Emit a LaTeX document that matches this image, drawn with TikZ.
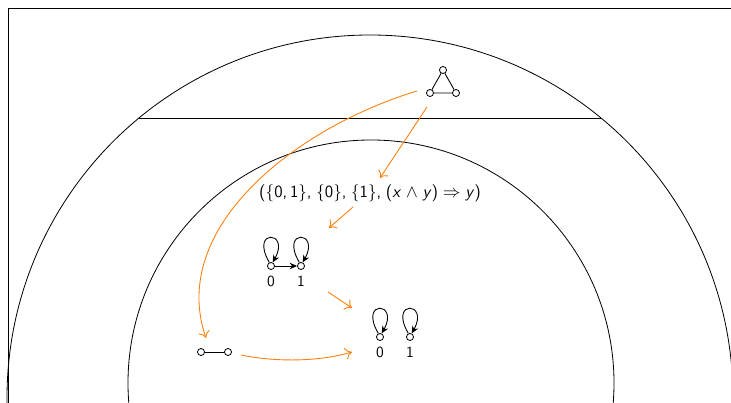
\documentclass[tikz,border=0pt]{standalone}
\usetikzlibrary{arrows.meta}
\definecolor{orng}{RGB}{255,127,14}
\begin{document}
\begin{tikzpicture}[x=0.68pt,y=0.68pt,
  vtx/.style={circle,draw,fill=white,inner sep=0pt,minimum size=4.8pt,line width=0.55pt},
  lbl/.style={font=\fontsize{10.5}{12}\selectfont\sffamily,inner sep=0pt},
  biglbl/.style={font=\fontsize{11.6}{14}\selectfont\sffamily,inner sep=0pt},
  edgeline/.style={line width=0.6pt},
  flow/.style={draw=orng,line width=0.6pt,-{To[length=4.5pt,width=8pt]}},
  selfloop/.style={edgeline,-{Stealth[length=5pt,width=4.4pt]}},
  arc/.style={line width=0.55pt}
]
\useasboundingbox (0,0) rectangle (731,-403);
\clip (0,0) rectangle (731,-403);
% frame and regions
\draw[line width=0.65pt] (8,-8) rectangle (760,-430);
\draw[arc] (370,-398) circle (363);
\draw[arc] (371,-383) circle (243);
\coordinate (c1) at (139,-118);
\coordinate (c2) at (601,-118);
\draw[arc] (c1) -- (c2);
% triangle graph
\node[vtx] (t1) at (443,-70) {};
\node[vtx] (t2) at (430,-93) {};
\node[vtx] (t3) at (456,-93) {};
\draw[edgeline] (t1) -- (t2) -- (t3) -- (t1);
% single edge graph
\node[vtx] (e1) at (201,-352) {};
\node[vtx] (e2) at (228,-352) {};
\draw[edgeline] (e1) -- (e2);
% text
\node[biglbl] (txt) at (370,-193) {(\{0,\,1\},\;\{0\},\;\{1\},\;(\textit{x}\;$\wedge$\;\textit{y})\;$\Rightarrow$\;\textit{y})};
% graph A
\node[vtx] (a0) at (271,-266) {};
\node[vtx] (a1) at (301,-266) {};
\node[lbl] (la0) at (271,-281) {0};
\node[lbl] (la1) at (301,-281) {1};
\draw[edgeline,-{Stealth[length=5pt,width=4.4pt]}] (a0) -- (a1);
\draw[selfloop] (a0.115) .. controls +(-20,34) and +(18,32) .. (a0.65);
\draw[selfloop] (a1.115) .. controls +(-20,34) and +(18,32) .. (a1.65);
% graph B
\node[vtx] (b0) at (380,-337) {};
\node[vtx] (b1) at (410,-337) {};
\node[lbl] (lb0) at (380,-352) {0};
\node[lbl] (lb1) at (410,-352) {1};
\draw[selfloop] (b0.115) .. controls +(-20,34) and +(18,32) .. (b0.65);
\draw[selfloop] (b1.115) .. controls +(-20,34) and +(18,32) .. (b1.65);
% orange arrows
\coordinate (s1) at (417,-91);  \coordinate (f1) at (206,-338);
\coordinate (s2) at (427,-107); \coordinate (f2) at (380,-178);
\coordinate (s3) at (353,-207); \coordinate (f3) at (329,-228);
\coordinate (s4) at (328,-292); \coordinate (f4) at (352,-308);
\coordinate (s5) at (241,-355); \coordinate (f5) at (352,-352);
\draw[flow] (s1) .. controls (295,-128) and (168,-228) .. (f1);
\draw[flow] (s2) -- (f2);
\draw[flow] (s3) -- (f3);
\draw[flow] (s4) -- (f4);
\draw[flow] (s5) .. controls (275,-362) and (318,-362) .. (f5);
\end{tikzpicture}
\end{document}
